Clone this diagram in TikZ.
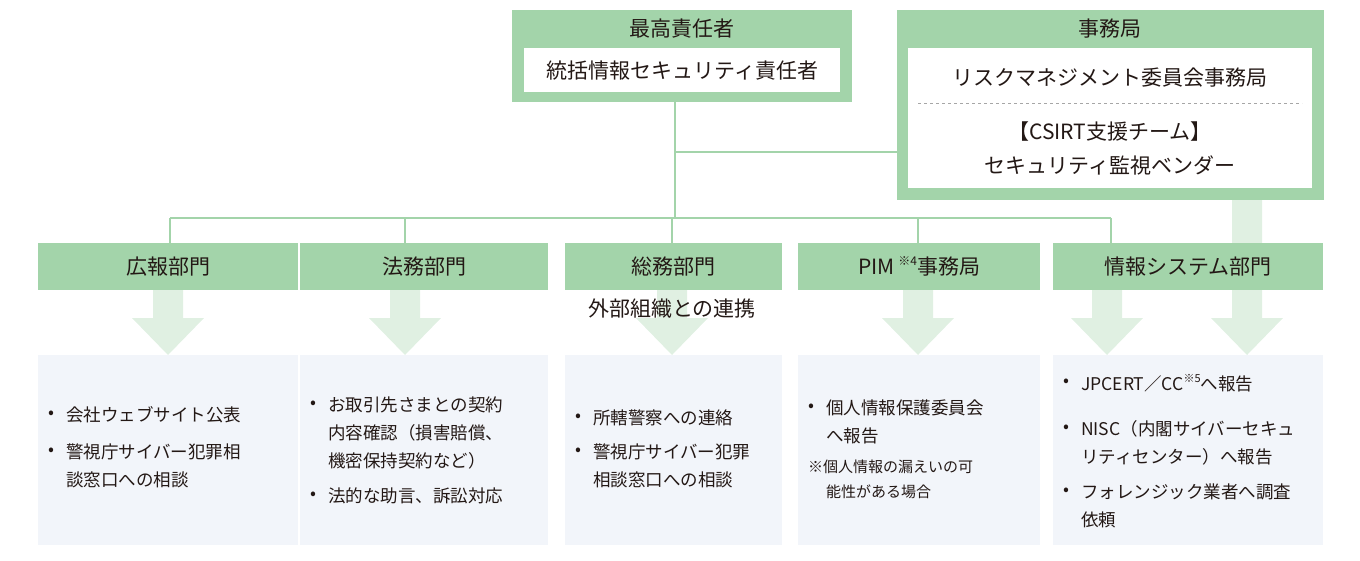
\documentclass[tikz,border=0pt]{standalone}
\usepackage{fontspec}
\setmainfont{Noto Sans CJK JP}
\begin{document}
\begin{tikzpicture}[x=1pt,y=-1pt,
  grn/.style={fill=G,draw=none},
  wht/.style={fill=white,draw=none},
  pale/.style={fill=P,draw=none},
  arr/.style={fill=A,draw=none},
  ln/.style={draw=G,line width=2.2pt},
  hd/.style={font=\fontsize{21}{25}\selectfont,text=T},
  tx/.style={font=\fontsize{17.5}{21}\selectfont,text=T,anchor=west,inner sep=0},
  sm/.style={font=\fontsize{15}{18}\selectfont,text=T,anchor=west,inner sep=0}]
\definecolor{G}{HTML}{A3D4AA}
\definecolor{A}{HTML}{E0F0E2}
\definecolor{P}{HTML}{F2F5FA}
\definecolor{T}{HTML}{231815}
\useasboundingbox (0,0) rectangle (1360,560);
% arrows
\newcommand{\darrow}[3]{\fill[A] (#1-15,#2) -- (#1+15,#2) -- (#1+15,318) -- (#1+36,318) -- (#1,#3) -- (#1-36,318) -- (#1-15,318) -- cycle;}
\darrow{168}{290}{355}
\darrow{405}{290}{355}
\darrow{672}{290}{355}
\darrow{918}{290}{355}
\darrow{1107}{290}{355}
\darrow{1247}{200}{355}
% connectors
\coordinate (jA) at (675,152);
\coordinate (jB) at (675,218);
\coordinate (l1) at (170,218);
\coordinate (l5) at (1111,218);
\draw[ln] (675,102) -- (jB);
\draw[ln] (jA) -- (897,152);
\draw[ln] (l1) -- (l5);
\foreach \x in {170,405,672,918,1111} \draw[ln] (\x,218) -- (\x,243);
% top boxes
\node[grn,minimum width=340,minimum height=92,anchor=north west] (top) at (512,10) {};
\node[hd] (toph) at (682,29) {最高責任者};
\node[wht,minimum width=316,minimum height=44,anchor=north west,hd] (topi) at (524,48) {統括情報セキュリティ責任者};
\node[grn,minimum width=427,minimum height=190,anchor=north west] (jim) at (897,10) {};
\node[hd] (jimh) at (1110,29) {事務局};
\node[wht,minimum width=404,minimum height=140,anchor=north west] (jimi) at (908,48) {};
\node[hd] (j1) at (1110,78) {リスクマネジメント委員会事務局};
\draw[dashed,draw=gray!70,line width=0.6pt] (918,103) -- (1302,103);
\node[hd] (j2) at (1110,132) {【CSIRT支援チーム】};
\node[hd] (j3) at (1110,165) {セキュリティ監視ベンダー};
% department headers
\foreach \n/\a/\b/\t in {d1/38/298/広報部門,d2/300/548/法務部門,d3/565/782/総務部門,d4/798/1040/{PIM\,\raisebox{0.45em}{\fontsize{12}{12}\selectfont ※4}事務局},d5/1053/1323/情報システム部門}{
  \node[grn,minimum width=\b-\a,minimum height=47,anchor=north west] (\n) at (\a,243) {};
  \node[hd] at (\n.center) {\t};
  \node[pale,minimum width=\b-\a,minimum height=190,anchor=north west] (\n b) at (\a,355) {};
}
\node[hd,fill=white,fill opacity=0,text opacity=1] (ext) at (672,309) {外部組織との連携};
% texts
\newcommand{\bl}[3]{\node[tx] at (#1,#2) {•}; \node[tx] at (#1+18,#2) {#3};}
\newcommand{\cl}[3]{\node[tx] at (#1+18,#2) {#3};}
\bl{48}{415}{会社ウェブサイト公表}
\bl{48}{452}{警視庁サイバー犯罪相}
\cl{48}{480}{談窓口への相談}
\bl{310}{405}{お取引先さまとの契約}
\cl{310}{433}{内容確認（損害賠償、}
\cl{310}{461}{機密保持契約など）}
\bl{310}{496}{法的な助言、訴訟対応}
\bl{575}{418}{所轄警察への連絡}
\bl{575}{452}{警視庁サイバー犯罪}
\cl{575}{480}{相談窓口への相談}
\bl{808}{408}{個人情報保護委員会}
\cl{808}{436}{へ報告}
\node[sm] at (808,467) {※個人情報の漏えいの可};
\node[sm] at (826,492) {能性がある場合};
\bl{1063}{383}{JPCERT／CC\raisebox{0.45em}{\fontsize{11}{11}\selectfont ※5}へ報告}
\bl{1063}{429}{NISC（内閣サイバーセキュ}
\cl{1063}{457}{リティセンター）へ報告}
\bl{1063}{492}{フォレンジック業者へ調査}
\cl{1063}{520}{依頼}
\end{tikzpicture}
\end{document}
